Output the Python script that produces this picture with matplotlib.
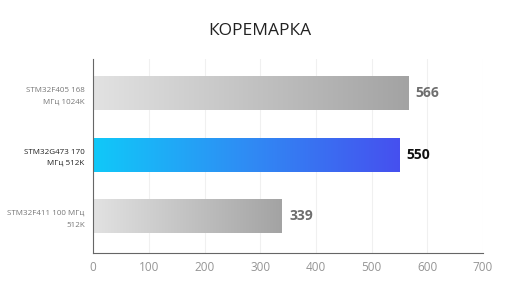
import numpy as np
import matplotlib
matplotlib.use('Agg')
import matplotlib.pyplot as plt
from matplotlib.colors import LinearSegmentedColormap

plt.rcParams['font.family'] = ['Open Sans', 'DejaVu Sans']

# данные
labels = ["STM32F405 168\nМГц 1024K", "STM32G473 170\nМГц 512K", "STM32F411 100 МГц\n512K"]
scores = [566, 550, 339]
highlight = [False, True, False]
xticks = [0, 100, 200, 300, 400, 500, 600, 700]

gray_cmap = LinearSegmentedColormap.from_list("g", ["#e2e2e2", "#a3a3a3"])
blue_cmap = LinearSegmentedColormap.from_list("b", ["#10c9f9", "#2f8cf4", "#4650ef"])

fig = plt.figure(figsize=(5.2, 2.93), dpi=100)
ax = fig.add_axes([0.179, 0.137, 0.75, 0.66])

y = np.arange(len(scores))[::-1]
bars = ax.barh(y, scores, height=0.55, color='none', edgecolor='none', zorder=2)

grad = np.linspace(0, 1, 256).reshape(1, -1)
for bar, val, hi in zip(bars, scores, highlight):
    x0, y0 = bar.get_x(), bar.get_y()
    w, h = bar.get_width(), bar.get_height()
    im = ax.imshow(grad, cmap=blue_cmap if hi else gray_cmap, aspect='auto',
                   extent=[x0, x0 + w, y0, y0 + h], zorder=2, interpolation='bicubic')
    im.set_clip_path(bar)
    ax.text(val + 13, y0 + h / 2, str(val), va='center', ha='left',
            fontsize=10, fontweight='bold',
            color='#111111' if hi else '#6e6e6e')

ax.set_xlim(0, 700)
ax.set_ylim(-0.6, 2.55)
ax.set_xticks(xticks)
ax.set_xticklabels([str(t) for t in xticks], fontsize=8.5, color='#959595')
ax.set_yticks(y)
ax.set_yticklabels(labels, fontsize=5.8, color='#777777', linespacing=1.9)
for lbl, hi in zip(ax.get_yticklabels(), highlight):
    if hi:
        lbl.set_color('#222222')
ax.tick_params(axis='both', length=0, pad=6)
ax.grid(axis='x', color='#f0f0f0', linewidth=0.8, zorder=0)
ax.set_axisbelow(True)
for s in ['top', 'right']:
    ax.spines[s].set_visible(False)
for s in ['left', 'bottom']:
    ax.spines[s].set_color('#666666')
    ax.spines[s].set_linewidth(0.8)

fig.text(0.5, 0.895, "КОРЕМАРКА", ha='center', va='center', fontsize=12.5, color='#222222')

fig.savefig('out.png', dpi=100)
